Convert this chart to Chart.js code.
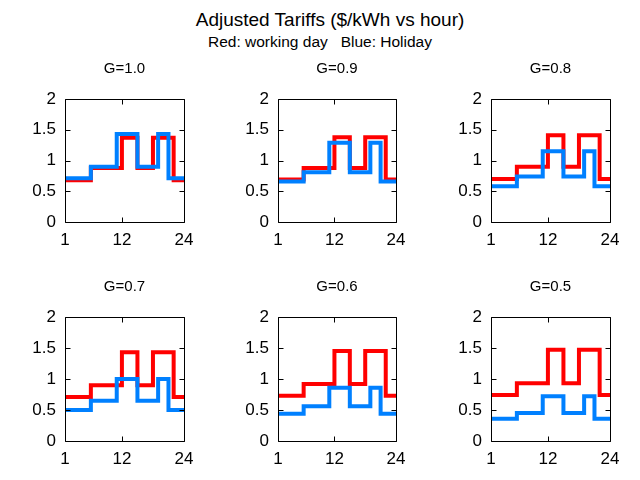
<!DOCTYPE html>
<html><head><meta charset="utf-8">
<script src="https://cdn.jsdelivr.net/npm/chart.js@4.4.0/dist/chart.umd.min.js"></script>
<style>
html,body{margin:0;padding:0;background:#fff;}
#root{position:relative;width:640px;height:480px;overflow:hidden;font-family:"Liberation Sans",Arial,sans-serif;}
.t{position:absolute;white-space:pre;transform:translate(-50%,-50%);color:#000;line-height:1;}
canvas{position:absolute;}
</style></head><body>
<div id="root">
<div class="t" style="left:330px;top:19px;font-size:19px;">Adjusted Tariffs ($/kWh vs hour)</div>
<div class="t" style="left:320px;top:42px;font-size:15.5px;">Red: working day   Blue: Holiday</div>
</div>
<script>
// Hours of the day (x axis)
const hours = [1,2,3,4,5,6,7,8,9,10,11,12,13,14,15,16,17,18,19,20,21,22,23,24];
const xTicks = [1, 12, 24];
const yTicks = [0, 0.5, 1, 1.5, 2];
const panelTitles = ["G=1.0", "G=0.9", "G=0.8", "G=0.7", "G=0.6", "G=0.5"];

// Working day tariffs (red)
const workG10 = [0.68,0.68,0.68,0.68,0.68,0.88,0.88,0.88,0.88,0.88,0.88,1.37,1.37,1.37,0.88,0.88,0.88,1.37,1.37,1.37,1.37,0.68,0.68,0.68];
const workG09 = [0.69,0.69,0.69,0.69,0.69,0.88,0.88,0.88,0.88,0.88,0.88,1.38,1.38,1.38,0.88,0.88,0.88,1.38,1.38,1.38,1.38,0.69,0.69,0.69];
const workG08 = [0.70,0.70,0.70,0.70,0.70,0.90,0.90,0.90,0.90,0.90,0.90,1.41,1.41,1.41,0.90,0.90,0.90,1.41,1.41,1.41,1.41,0.70,0.70,0.70];
const workG07 = [0.71,0.71,0.71,0.71,0.71,0.90,0.90,0.90,0.90,0.90,0.90,1.43,1.43,1.43,0.90,0.90,0.90,1.43,1.43,1.43,1.43,0.71,0.71,0.71];
const workG06 = [0.73,0.73,0.73,0.73,0.73,0.92,0.92,0.92,0.92,0.92,0.92,1.45,1.45,1.45,0.92,0.92,0.92,1.45,1.45,1.45,1.45,0.73,0.73,0.73];
const workG05 = [0.74,0.74,0.74,0.74,0.74,0.93,0.93,0.93,0.93,0.93,0.93,1.47,1.47,1.47,0.93,0.93,0.93,1.47,1.47,1.47,1.47,0.74,0.74,0.74];

// Holiday tariffs (blue)
const holiG10 = [0.71,0.71,0.71,0.71,0.71,0.90,0.90,0.90,0.90,0.90,1.43,1.43,1.43,1.43,0.90,0.90,0.90,0.90,1.43,1.43,0.71,0.71,0.71,0.71];
const holiG09 = [0.66,0.66,0.66,0.66,0.66,0.81,0.81,0.81,0.81,0.81,1.29,1.29,1.29,1.29,0.81,0.81,0.81,0.81,1.29,1.29,0.66,0.66,0.66,0.66];
const holiG08 = [0.58,0.58,0.58,0.58,0.58,0.74,0.74,0.74,0.74,0.74,1.15,1.15,1.15,1.15,0.74,0.74,0.74,0.74,1.15,1.15,0.58,0.58,0.58,0.58];
const holiG07 = [0.50,0.50,0.50,0.50,0.50,0.65,0.65,0.65,0.65,0.65,1.00,1.00,1.00,1.00,0.65,0.65,0.65,0.65,1.00,1.00,0.50,0.50,0.50,0.50];
const holiG06 = [0.44,0.44,0.44,0.44,0.44,0.56,0.56,0.56,0.56,0.56,0.86,0.86,0.86,0.86,0.56,0.56,0.56,0.56,0.86,0.86,0.44,0.44,0.44,0.44];
const holiG05 = [0.36,0.36,0.36,0.36,0.36,0.45,0.45,0.45,0.45,0.45,0.72,0.72,0.72,0.72,0.45,0.45,0.45,0.45,0.72,0.72,0.36,0.36,0.36,0.36];

const workSeries = [workG10, workG09, workG08, workG07, workG06, workG05];
const holiSeries = [holiG10, holiG09, holiG08, holiG07, holiG06, holiG05];

const plotLeft = [65, 278, 491];
const plotRight = [184, 396, 610];
const plotTop = [99, 317];
const plotBottom = [222, 441];

const FONT = "'Liberation Sans', Arial, sans-serif";
const RED = '#ff0000';
const BLUE = '#0080ff';

const framePlugin = {
  id: 'frame',
  afterDraw(chart) {
    const ctx = chart.ctx, a = chart.chartArea;
    const xs = chart.scales.x, ys = chart.scales.y;
    ctx.save();
    ctx.strokeStyle = '#000';
    ctx.lineWidth = 1;
    ctx.beginPath();
    const L = Math.round(a.left) + 0.5, R = Math.round(a.right) + 0.5;
    const T = Math.round(a.top) + 0.5, B = Math.round(a.bottom) + 0.5;
    ctx.rect(L, T, R - L, B - T);
    const tl = 5;
    yTicks.forEach(v => {
      const y = Math.round(ys.getPixelForValue(v)) + 0.5;
      ctx.moveTo(L, y); ctx.lineTo(L + tl, y);
      ctx.moveTo(R, y); ctx.lineTo(R - tl, y);
    });
    xTicks.forEach(v => {
      const x = Math.round(xs.getPixelForValue(v)) + 0.5;
      ctx.moveTo(x, B); ctx.lineTo(x, B - tl);
      ctx.moveTo(x, T); ctx.lineTo(x, T + tl);
    });
    ctx.stroke();
    ctx.restore();
  }
};

const root = document.getElementById('root');
const YW = 60, RP = 20, TH = 49, XH = 40;

for (let i = 0; i < 6; i++) {
  const r = Math.floor(i / 3), c = i % 3;
  const pw = plotRight[c] - plotLeft[c];
  const ph = plotBottom[r] - plotTop[r];
  const cv = document.createElement('canvas');
  const W = YW + pw + RP, H = TH + ph + XH;
  cv.width = W; cv.height = H;
  cv.style.left = (plotLeft[c] - YW) + 'px';
  cv.style.top = (plotTop[r] - TH) + 'px';
  cv.style.width = W + 'px'; cv.style.height = H + 'px';
  root.appendChild(cv);
  new Chart(cv, {
    type: 'line',
    data: {
      labels: hours,
      datasets: [
        { label: 'Working day', data: workSeries[i], borderColor: RED, borderWidth: 4, stepped: 'before', pointRadius: 0, order: 1, fill: false },
        { label: 'Holiday', data: holiSeries[i], borderColor: BLUE, borderWidth: 4, stepped: 'before', pointRadius: 0, order: 0, fill: false }
      ]
    },
    options: {
      responsive: false,
      devicePixelRatio: 1,
      animation: false,
      layout: { padding: { left: 0, right: RP, top: 0, bottom: 0 } },
      plugins: {
        legend: { display: false },
        tooltip: { enabled: false },
        title: {
          display: true, text: panelTitles[i], fullSize: false, color: '#000',
          font: { family: FONT, size: 15, weight: 'normal', lineHeight: '18px' },
          padding: { top: 10, bottom: 21 }
        }
      },
      scales: {
        x: {
          type: 'linear', min: 1, max: 24,
          afterBuildTicks: s => { s.ticks = xTicks.map(v => ({ value: v })); },
          afterFit: s => { s.height = XH; },
          grid: { display: false, drawTicks: false },
          border: { display: false },
          ticks: { color: '#000', font: { family: FONT, size: 17 }, padding: 8, maxRotation: 0, autoSkip: false, callback: v => String(v) }
        },
        y: {
          min: 0, max: 2,
          afterBuildTicks: s => { s.ticks = yTicks.map(v => ({ value: v })); },
          afterFit: s => { s.width = YW; },
          grid: { display: false, drawTicks: false },
          border: { display: false },
          ticks: { color: '#000', font: { family: FONT, size: 17 }, padding: 9, callback: v => String(v) }
        }
      }
    },
    plugins: [framePlugin]
  });
}
</script>
</body></html>
